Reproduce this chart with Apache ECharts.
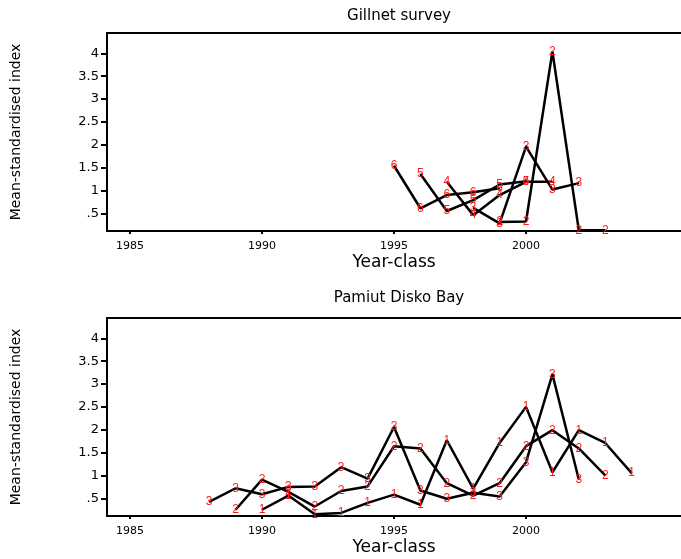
<!DOCTYPE html>
<html>
<head>
<meta charset="utf-8">
<script src="https://cdn.jsdelivr.net/npm/echarts@6/dist/echarts.min.js"></script>
<style>
html,body{margin:0;padding:0;background:#fff;}
#main{width:681px;height:559px;}
</style>
</head>
<body>
<div id="main"></div>
<script>
// 刻度
var xTicks = [1985, 1990, 1995, 2000];
var yTicks = [0.5, 1, 1.5, 2, 2.5, 3, 3.5, 4];

// Gillnet survey (按年龄)
var gAges = ['2', '3', '4', '5', '6'];
var gYears = [
    [1999, 2000, 2001, 2002, 2003],
    [1998, 1999, 2000, 2001, 2002],
    [1997, 1998, 1999, 2000, 2001],
    [1996, 1997, 1998, 1999, 2000],
    [1995, 1996, 1997, 1998, 1999]
];
var gValues = [
    [0.31, 0.32, 4.04, 0.13, 0.13],
    [0.62, 0.28, 1.96, 1.02, 1.16],
    [1.19, 0.46, 0.90, 1.19, 1.19],
    [1.36, 0.55, 0.79, 1.13, 1.20],
    [1.54, 0.61, 0.90, 0.96, 1.05]
];

// Pamiut Disko Bay
var pAges = ['1', '2', '3'];
var pYears = [
    [1990, 1991, 1992, 1993, 1994, 1995, 1996, 1997, 1998, 1999, 2000, 2001, 2002, 2003, 2004],
    [1989, 1990, 1991, 1992, 1993, 1994, 1995, 1996, 1997, 1998, 1999, 2000, 2001, 2002, 2003],
    [1988, 1989, 1990, 1991, 1992, 1993, 1994, 1995, 1996, 1997, 1998, 1999, 2000, 2001, 2002]
];
var pValues = [
    [0.25, 0.56, 0.15, 0.18, 0.40, 0.58, 0.36, 1.77, 0.71, 1.71, 2.50, 1.07, 1.99, 1.71, 1.05],
    [0.25, 0.91, 0.64, 0.32, 0.66, 0.76, 1.64, 1.59, 0.83, 0.56, 0.83, 1.64, 1.99, 1.59, 1.00],
    [0.42, 0.72, 0.59, 0.75, 0.76, 1.18, 0.93, 2.06, 0.67, 0.49, 0.62, 0.54, 1.29, 3.21, 0.91]
];

var FONT = 'DejaVu Sans';
var X_MIN = 1984.13, X_MAX = 2005.87;

function makeSeries(ages, years, values, idx){
    var list = [];
    for(var i = 0; i < ages.length; i++){
        var pts = [];
        for(var j = 0; j < years[i].length; j++){
            pts.push([years[i][j], values[i][j]]);
        }
        list.push({
            type: 'line',
            xAxisIndex: idx,
            yAxisIndex: idx,
            data: pts,
            symbol: 'circle',
            symbolSize: 1,
            itemStyle: {color: '#000'},
            lineStyle: {color: '#000', width: 2.5},
            label: {
                show: true,
                position: 'inside',
                formatter: ages[i],
                color: '#ff1a1a',
                fontFamily: 'Liberation Sans',
                fontSize: 12
            },
            z: 3
        });
    }
    return list;
}

function xAxisOf(idx){
    return {
        type: 'value',
        gridIndex: idx,
        min: X_MIN,
        max: X_MAX,
        name: 'Year-class',
        nameLocation: 'middle',
        nameGap: 23,
        nameTextStyle: {fontFamily: FONT, fontSize: 17, color: '#000'},
        axisLine: {lineStyle: {color: '#000', width: 2}},
        axisTick: {customValues: xTicks, length: 3, lineStyle: {color: '#000', width: 2}},
        axisLabel: {
            customValues: xTicks, margin: 10, fontFamily: FONT, fontSize: 11, color: '#000',
            formatter: function(v){ return String(v); }
        },
        splitLine: {show: false}
    };
}

// 上边框（右边框在画面外）
function topLineOf(idx){
    return {
        type: 'value',
        gridIndex: idx,
        position: 'top',
        min: X_MIN,
        max: X_MAX,
        axisLine: {lineStyle: {color: '#000', width: 2}},
        axisTick: {show: false},
        axisLabel: {show: false},
        splitLine: {show: false}
    };
}

function yAxisOf(idx){
    return {
        type: 'value',
        gridIndex: idx,
        min: 0.113,
        max: 4.444,
        name: 'Mean-standardised index',
        nameLocation: 'middle',
        nameGap: 84,
        nameTextStyle: {fontFamily: FONT, fontSize: 14, color: '#000'},
        axisLine: {lineStyle: {color: '#000', width: 2}},
        axisTick: {customValues: yTicks, length: 6, lineStyle: {color: '#000', width: 2}},
        axisLabel: {
            customValues: yTicks, margin: 8, fontFamily: FONT, fontSize: 13, color: '#000',
            formatter: function(v){ return v === 0.5 ? '.5' : String(v); }
        },
        splitLine: {show: false}
    };
}

var chart = echarts.init(document.getElementById('main'));
chart.setOption({
    animation: false,
    backgroundColor: '#fff',
    title: [
        {text: 'Gillnet survey', left: 394, top: 4, textAlign: 'center',
         textStyle: {fontFamily: FONT, fontSize: 15, fontWeight: 'normal', color: '#000'}},
        {text: 'Pamiut Disko Bay', left: 394, top: 286, textAlign: 'center',
         textStyle: {fontFamily: FONT, fontSize: 15, fontWeight: 'normal', color: '#000'}}
    ],
    grid: [
        {left: 107, top: 33, right: 0, height: 198},
        {left: 107, top: 318, right: 0, height: 198}
    ],
    xAxis: [xAxisOf(0), xAxisOf(1), topLineOf(0), topLineOf(1)],
    yAxis: [yAxisOf(0), yAxisOf(1)],
    series: makeSeries(gAges, gYears, gValues, 0).concat(makeSeries(pAges, pYears, pValues, 1))
});
</script>
</body>
</html>
